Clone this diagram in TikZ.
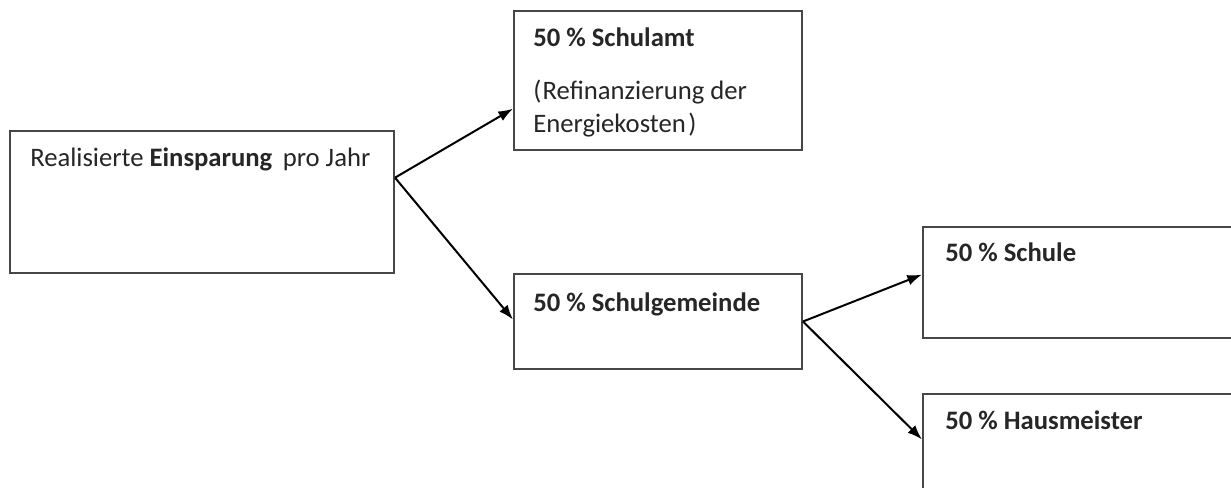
\documentclass[tikz,border=0pt]{standalone}
\usepackage{fontspec}
\setmainfont{Carlito}
\usetikzlibrary{arrows.meta,calc}
\begin{document}
\begin{tikzpicture}[x=0.75pt,y=-0.75pt,
  box/.style={draw=black!72,line width=1.5pt,fill=white,inner sep=0pt,anchor=center},
  txt/.style={anchor=base west,inner sep=0pt,font=\fontsize{20}{24}\selectfont,text=black!85},
  conn/.style={line width=1.5pt,-{Latex[length=11pt,width=8pt]}}]
\useasboundingbox (0,0) rectangle (1231,488);
\clip (0,0) rectangle (1231,488);
\node[box,minimum width=288pt,minimum height=106.5pt] (A) at (202,202) {};
\node[box,minimum width=216pt,minimum height=104.25pt] (B) at (658,80.5) {};
\node[box,minimum width=216pt,minimum height=71.25pt] (C) at (658,321.5) {};
\node[box,minimum width=237.75pt,minimum height=83.25pt] (D) at (1081.5,282.5) {};
\node[box,minimum width=237.75pt,minimum height=79.5pt] (E) at (1081.5,447) {};
\node[txt] (tA) at (30,167) {Realisierte \textbf{Einsparung}\, pro Jahr};
\node[txt] (tB) at (533,47) {\textbf{50 \% Schulamt}};
\node[txt] (tB2) at (533,100) {(\kern1pt Refinanzierung der};
\node[txt] (tB3) at (533,133) {Energiekosten\kern2pt)};
\node[txt] (tC) at (533,311) {\textbf{50 \% Schulgemeinde}};
\node[txt] (tD) at (945,262) {\textbf{50 \% Schule}};
\node[txt] (tE) at (945,429) {\textbf{50 \% Hausmeister}};
\coordinate (a1) at ($(A.north east)!0.331!(A.south east)$);
\coordinate (b1) at ($(B.north west)!0.70!(B.south west)$);
\coordinate (c1) at ($(C.north west)!0.48!(C.south west)$);
\coordinate (c2) at ($(C.north east)!0.50!(C.south east)$);
\coordinate (d1) at ($(D.north west)!0.43!(D.south west)$);
\coordinate (e1) at ($(E.north west)!0.43!(E.south west)$);
\draw[conn] (a1) -- (b1);
\draw[conn] (a1) -- (c1);
\draw[conn] (c2) -- (d1);
\draw[conn] (c2) -- (e1);
\end{tikzpicture}
\end{document}
